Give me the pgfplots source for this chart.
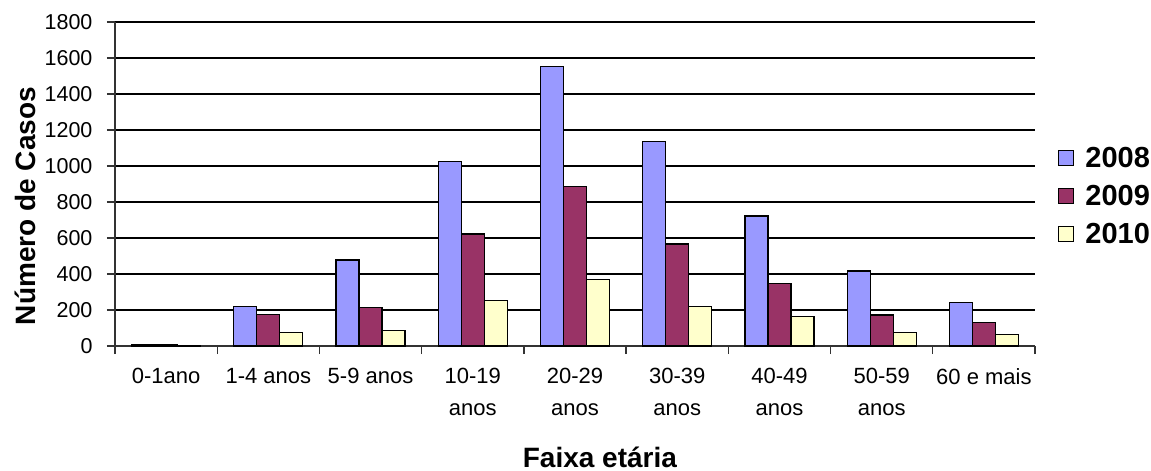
\documentclass[border=0pt]{standalone}
\usepackage{pgfplots}
\pgfplotsset{compat=1.18}
\usepackage{fontspec}
\setmainfont{Liberation Sans}
\definecolor{c08}{HTML}{9999FF}
\definecolor{c09}{HTML}{993366}
\definecolor{c10}{HTML}{FFFFCC}
\begin{document}
\begin{tikzpicture}
\path[use as bounding box] (-115pt,-125pt) rectangle (1036pt,346pt);
\begin{axis}[
  at={(0,0)}, anchor=south west,
  scale only axis, width=920pt, height=324pt,
  ybar=0pt, bar width=23pt,
  xmin=-0.5, xmax=8.5, ymin=0, ymax=1800,
  ytick={0,200,...,1800},
  xtick={0,...,8},
  xticklabels={0-1ano,1-4 anos,5-9 anos,{10-19\\anos},{20-29\\anos},{30-39\\anos},{40-49\\anos},{50-59\\anos},60 e mais},
  minor xtick={-0.5,0.5,...,8.5},
  major x tick style={draw=none},
  axis x line*=bottom, axis y line*=left,
  axis line style={line width=1.3pt, black!80, -},
  ymajorgrids, major grid style={line width=1.5pt, black},
  tick style={line width=1.3pt, black!80},
  tick align=outside,
  major tick length=8pt, minor tick length=8pt,
  xticklabel style={align=center, font=\fontsize{22}{32}\selectfont, yshift=-11pt},
  yticklabel style={font=\fontsize{21.5}{26}\selectfont, xshift=-11pt},
  /pgf/number format/assume math mode=true,
  /pgf/number format/1000 sep={},
  ylabel={\textbf{Número de Casos}},
  ylabel style={font=\fontsize{28}{32}\selectfont, at={(-90pt,140pt)}, anchor=center, rotate=0},
  xlabel={\textbf{Faixa etária}},
  xlabel style={font=\fontsize{28}{32}\selectfont, at={(485pt,-111pt)}, anchor=center},
  legend style={draw=none, fill=none, at={(943pt,150pt)}, anchor=west, font=\fontsize{29}{34}\selectfont\bfseries, row sep=12pt, inner sep=0pt,
    /tikz/every odd column/.append style={column sep=9pt}},
  legend cell align=left,
  legend image code/.code={\draw[#1, draw=black, line width=1.2pt] (0pt,-7.5pt) rectangle (15pt,7.5pt);},
  every axis plot/.append style={draw=black, line width=1.3pt},
]
\addplot[fill=c08] coordinates {(0,8) (1,218) (2,478) (3,1024) (4,1552) (5,1135) (6,722) (7,417) (8,240)};
\addplot[fill=c09] coordinates {(0,6) (1,176) (2,215) (3,622) (4,885) (5,567) (6,348) (7,172) (8,130)};
\addplot[fill=c10] coordinates {(0,3) (1,76) (2,87) (3,252) (4,370) (5,218) (6,163) (7,76) (8,65)};
\legend{2008,2009,2010}
\end{axis}
\end{tikzpicture}
\end{document}
